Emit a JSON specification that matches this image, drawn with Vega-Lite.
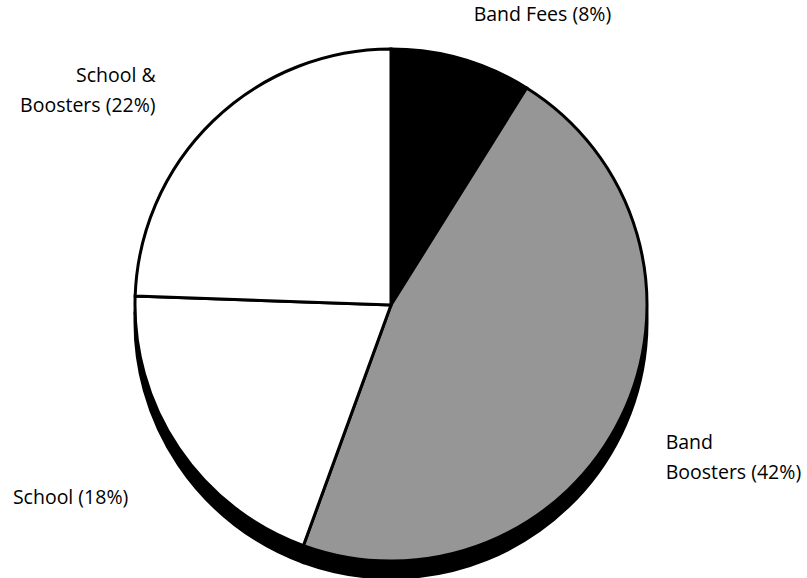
{
  "$schema": "https://vega.github.io/schema/vega-lite/v6.json",
  "width": 782,
  "height": 546,
  "autosize": {"type": "none"},
  "padding": {"left": 0, "top": 32, "right": 25, "bottom": 0},
  "background": "white",
  "view": {"stroke": null},
  "data": {
    "values": [
      {"source": "Band Fees", "value": 8, "order": 1, "label": "Band Fees (8%)"},
      {"source": "Band Boosters", "value": 42, "order": 2, "label": "Band\nBoosters (42%)"},
      {"source": "School", "value": 18, "order": 3, "label": "School (18%)"},
      {"source": "School & Boosters", "value": 22, "order": 4, "label": "School &\nBoosters (22%)"}
    ]
  },
  "encoding": {
    "theta": {"field": "value", "type": "quantitative", "stack": true},
    "order": {"field": "order", "type": "quantitative"}
  },
  "layer": [
    {
      "mark": {"type": "arc", "outerRadius": 256, "fill": "black", "stroke": "black", "strokeWidth": 3, "yOffset": 17}
    },
    {
      "mark": {"type": "arc", "outerRadius": 256, "stroke": "black", "strokeWidth": 3},
      "encoding": {
        "color": {
          "field": "source",
          "type": "nominal",
          "scale": {
            "domain": ["Band Fees", "Band Boosters", "School", "School & Boosters"],
            "range": ["#000000", "#969696", "#ffffff", "#ffffff"]
          },
          "legend": null
        }
      }
    },
    {
      "mark": {"type": "text", "radius": 300, "align": "left", "baseline": "middle", "dx": 0, "dy": -2, "font": "Open Sans", "fontSize": 19.5, "fontWeight": 500, "color": "black", "lineBreak": "\n"},
      "encoding": {
        "text": {"condition": {"test": "datum.source === 'Band Fees'", "field": "label", "type": "nominal"}, "value": ""}
      }
    },
    {
      "mark": {"type": "text", "radius": 300, "align": "left", "baseline": "middle", "dx": 5, "dy": 6, "font": "Open Sans", "fontSize": 19.5, "fontWeight": 500, "lineHeight": 30, "color": "black", "lineBreak": "\n"},
      "encoding": {
        "text": {"condition": {"test": "datum.source === 'Band Boosters'", "field": "label", "type": "nominal"}, "value": ""}
      }
    },
    {
      "mark": {"type": "text", "radius": 300, "align": "right", "baseline": "middle", "dx": -14, "dy": 25, "font": "Open Sans", "fontSize": 19.5, "fontWeight": 500, "color": "black", "lineBreak": "\n"},
      "encoding": {
        "text": {"condition": {"test": "datum.source === 'School'", "field": "label", "type": "nominal"}, "value": ""}
      }
    },
    {
      "mark": {"type": "text", "radius": 300, "align": "right", "baseline": "middle", "dx": -27, "dy": -13, "font": "Open Sans", "fontSize": 19.5, "fontWeight": 500, "lineHeight": 30, "color": "black", "lineBreak": "\n"},
      "encoding": {
        "text": {"condition": {"test": "datum.source === 'School & Boosters'", "field": "label", "type": "nominal"}, "value": ""}
      }
    }
  ]
}
